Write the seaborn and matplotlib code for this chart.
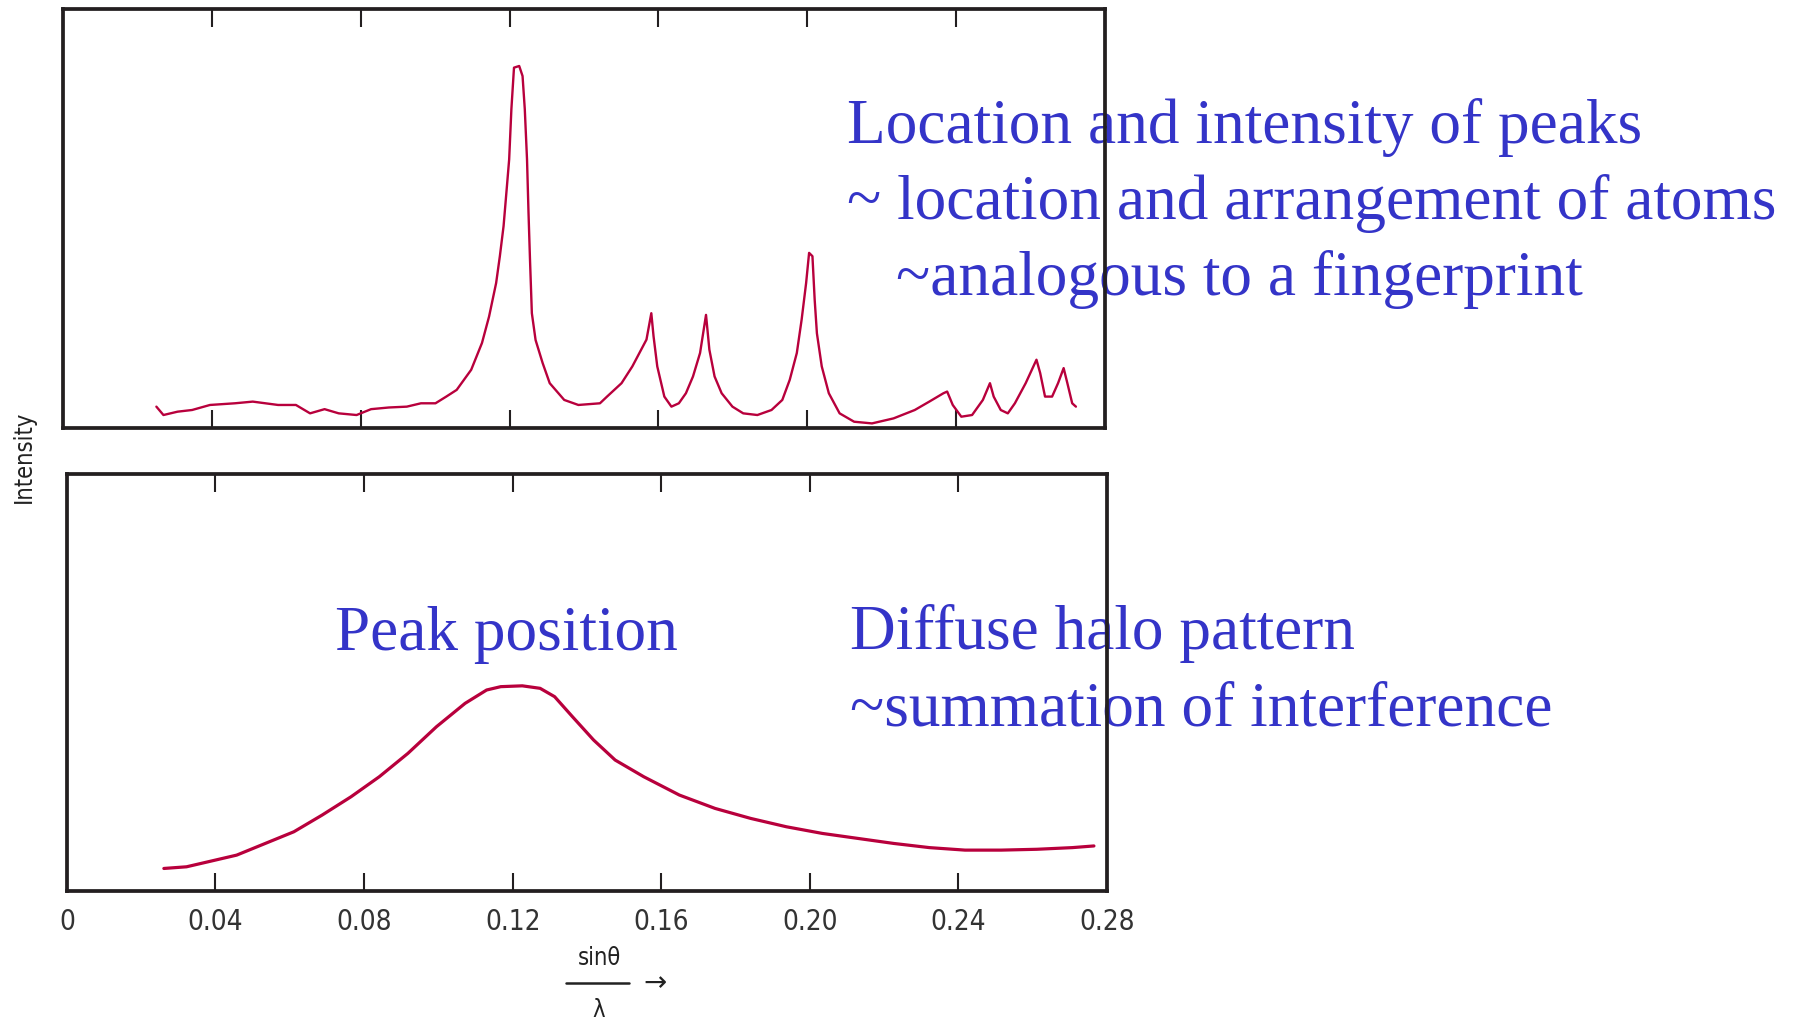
#import libraries
import numpy as np
import pandas as pd
import seaborn as sns
import matplotlib.pyplot as plt
from matplotlib.lines import Line2D

#crystalline pattern (sharp peaks), intensity in % of panel height
cryst_s = [0.0251, 0.0270, 0.0308, 0.0347, 0.0395, 0.0462, 0.0510, 0.0578, 0.0626, 0.0664,
           0.0703, 0.0741, 0.0789, 0.0828, 0.0876, 0.0924, 0.0962, 0.1001, 0.1030, 0.1058,
           0.1097, 0.1126, 0.1145, 0.1164, 0.1174, 0.1184, 0.1193, 0.1199, 0.1205, 0.1212,
           0.1226, 0.1235, 0.1241, 0.1247, 0.1251, 0.1255, 0.1260, 0.1270, 0.1289, 0.1308,
           0.1347, 0.1385, 0.1443, 0.1462, 0.1501, 0.1530, 0.1549, 0.1568, 0.1581, 0.1587,
           0.1597, 0.1616, 0.1635, 0.1655, 0.1674, 0.1693, 0.1712, 0.1728, 0.1737, 0.1751,
           0.1770, 0.1799, 0.1828, 0.1866, 0.1904, 0.1933, 0.1953, 0.1972, 0.1985, 0.1997,
           0.2005, 0.2014, 0.2020, 0.2026, 0.2039, 0.2058, 0.2087, 0.2126, 0.2174, 0.2232,
           0.2289, 0.2328, 0.2366, 0.2376, 0.2391, 0.2414, 0.2443, 0.2472, 0.2491, 0.2501,
           0.2520, 0.2539, 0.2558, 0.2587, 0.2616, 0.2626, 0.2639, 0.2658, 0.2674, 0.2689,
           0.2699, 0.2712, 0.2722]
cryst_i = [5.1, 3.1, 3.9, 4.3, 5.5, 5.9, 6.3, 5.5, 5.5, 3.5,
           4.5, 3.5, 3.1, 4.5, 4.9, 5.1, 5.9, 5.9, 7.5, 9.1,
           13.9, 20.3, 26.6, 34.6, 41.0, 48.2, 57.7, 64.1, 76.1, 86.0,
           86.4, 84.0, 76.1, 64.1, 51.4, 40.2, 27.4, 21.0, 15.5, 10.7,
           6.7, 5.5, 5.9, 7.5, 10.7, 14.7, 17.9, 21.1, 27.4, 21.9,
           14.7, 7.5, 5.1, 5.9, 8.3, 12.3, 17.9, 27.0, 18.7, 12.3,
           8.3, 5.1, 3.5, 3.1, 4.3, 6.7, 11.5, 17.9, 25.9, 34.6,
           41.8, 41.0, 30.6, 22.6, 14.7, 8.3, 3.5, 1.5, 1.1, 2.3,
           4.3, 6.3, 8.3, 8.7, 5.5, 2.7, 3.1, 6.7, 10.7, 7.5,
           4.3, 3.5, 5.9, 10.7, 16.3, 13.1, 7.5, 7.5, 10.7, 14.3,
           10.7, 5.9, 5.1]

#amorphous pattern (diffuse halo)
amorph_s = [0.0261, 0.0322, 0.0380, 0.0457, 0.0534, 0.0611, 0.0687, 0.0765, 0.0841, 0.0918,
            0.0995, 0.1072, 0.1130, 0.1168, 0.1226, 0.1274, 0.1313, 0.1361, 0.1418, 0.1476,
            0.1553, 0.1649, 0.1745, 0.1841, 0.1937, 0.2034, 0.2130, 0.2226, 0.2322, 0.2418,
            0.2515, 0.2611, 0.2707, 0.2765]
amorph_i = [5.4, 5.8, 7.0, 8.6, 11.4, 14.2, 18.2, 22.6, 27.4, 33.0,
            39.4, 45.0, 48.2, 49.0, 49.2, 48.6, 46.6, 41.8, 36.2, 31.4,
            27.4, 23.0, 19.8, 17.4, 15.4, 13.8, 12.6, 11.4, 10.4, 9.8,
            9.8, 10.0, 10.4, 10.8]

xticks = [0, 0.04, 0.08, 0.12, 0.16, 0.20, 0.24, 0.28]
xticklabels = ['0', '0.04', '0.08', '0.12', '0.16', '0.20', '0.24', '0.28']

top_text = ['Location and intensity of peaks',
            '~ location and arrangement of atoms',
            '~analogous to a fingerprint']
bottom_text = ['Diffuse halo pattern', '~summation of interference']

cryst = pd.DataFrame({'s': cryst_s, 'I': cryst_i})
amorph = pd.DataFrame({'s': amorph_s, 'I': amorph_i})

sns.set_style('white')
plt.rcParams['font.family'] = ['DejaVu Sans']

line_col = '#b8003c'
blue = '#3434c8'

fig = plt.figure(figsize=(17.99, 10.22), dpi=100)
ax1 = fig.add_axes([0.0350, 0.5812, 0.5792, 0.4100])
ax2 = fig.add_axes([0.0372, 0.1282, 0.5781, 0.4080])

sns.lineplot(data=cryst, x='s', y='I', ax=ax1, color=line_col, linewidth=1.7, sort=False)
sns.lineplot(data=amorph, x='s', y='I', ax=ax2, color=line_col, linewidth=2.3, sort=False)

for ax in (ax1, ax2):
    ax.set_xlim(0, 0.28)
    ax.set_ylim(0, 100)
    ax.set_yticks([])
    ax.set_xticks(xticks)
    ax.set_xlabel('')
    ax.set_ylabel('')
    ax.tick_params(axis='x', direction='in', top=True, bottom=True,
                   length=13, width=1.5, color='#231f20')
    for sp in ax.spines.values():
        sp.set_visible(True)
        sp.set_linewidth(2.7)
        sp.set_color('#231f20')
        sp.set_zorder(2.5)

ax1.set_xticklabels([])
ax2.set_xticklabels(xticklabels, fontsize=20, fontstretch='condensed', color='#333333')
ax2.tick_params(axis='x', pad=12)

#annotations, drawn under the frames
serif = ['Liberation Serif', 'DejaVu Serif']
fs = 45.5
ax1.text(0.4708, 0.8601, top_text[0], transform=fig.transFigure, family=serif,
         fontsize=fs, color=blue, va='baseline', zorder=2, clip_on=False)
ax1.text(0.4708, 0.7857, top_text[1], transform=fig.transFigure, family=serif,
         fontsize=fs, color=blue, va='baseline', zorder=2, clip_on=False)
ax1.text(0.4980, 0.7114, top_text[2], transform=fig.transFigure, family=serif,
         fontsize=fs, color=blue, va='baseline', zorder=2, clip_on=False)
ax2.text(0.1862, 0.3640, 'Peak position', transform=fig.transFigure, family=serif,
         fontsize=fs, color=blue, va='baseline', zorder=2, clip_on=False)
ax2.text(0.4725, 0.3650, bottom_text[0], transform=fig.transFigure, family=serif,
         fontsize=fs, color=blue, va='baseline', zorder=2, clip_on=False)
ax2.text(0.4725, 0.2906, bottom_text[1], transform=fig.transFigure, family=serif,
         fontsize=fs, color=blue, va='baseline', zorder=2, clip_on=False)

#y label between the panels
fig.text(0.0135, 0.553, 'Intensity', rotation=90, ha='center', va='center',
         fontsize=17, fontstretch='condensed', color='#222222')

#x label: sin(theta)/lambda with arrow
fig.text(0.333, 0.0626, 'sinθ', ha='center', va='center', fontsize=17,
         fontstretch='condensed', color='#222222')
fig.text(0.333, 0.0117, 'λ', ha='center', va='center', fontsize=17,
         fontstretch='condensed', color='#222222')
fig.text(0.364, 0.0380, '→', ha='center', va='center', fontsize=20, color='#222222')
fig.add_artist(Line2D([0.3147, 0.3497], [0.0382, 0.0382], transform=fig.transFigure,
                      color='#222222', linewidth=1.8))

fig.savefig('out.png', dpi=100, facecolor='white')
